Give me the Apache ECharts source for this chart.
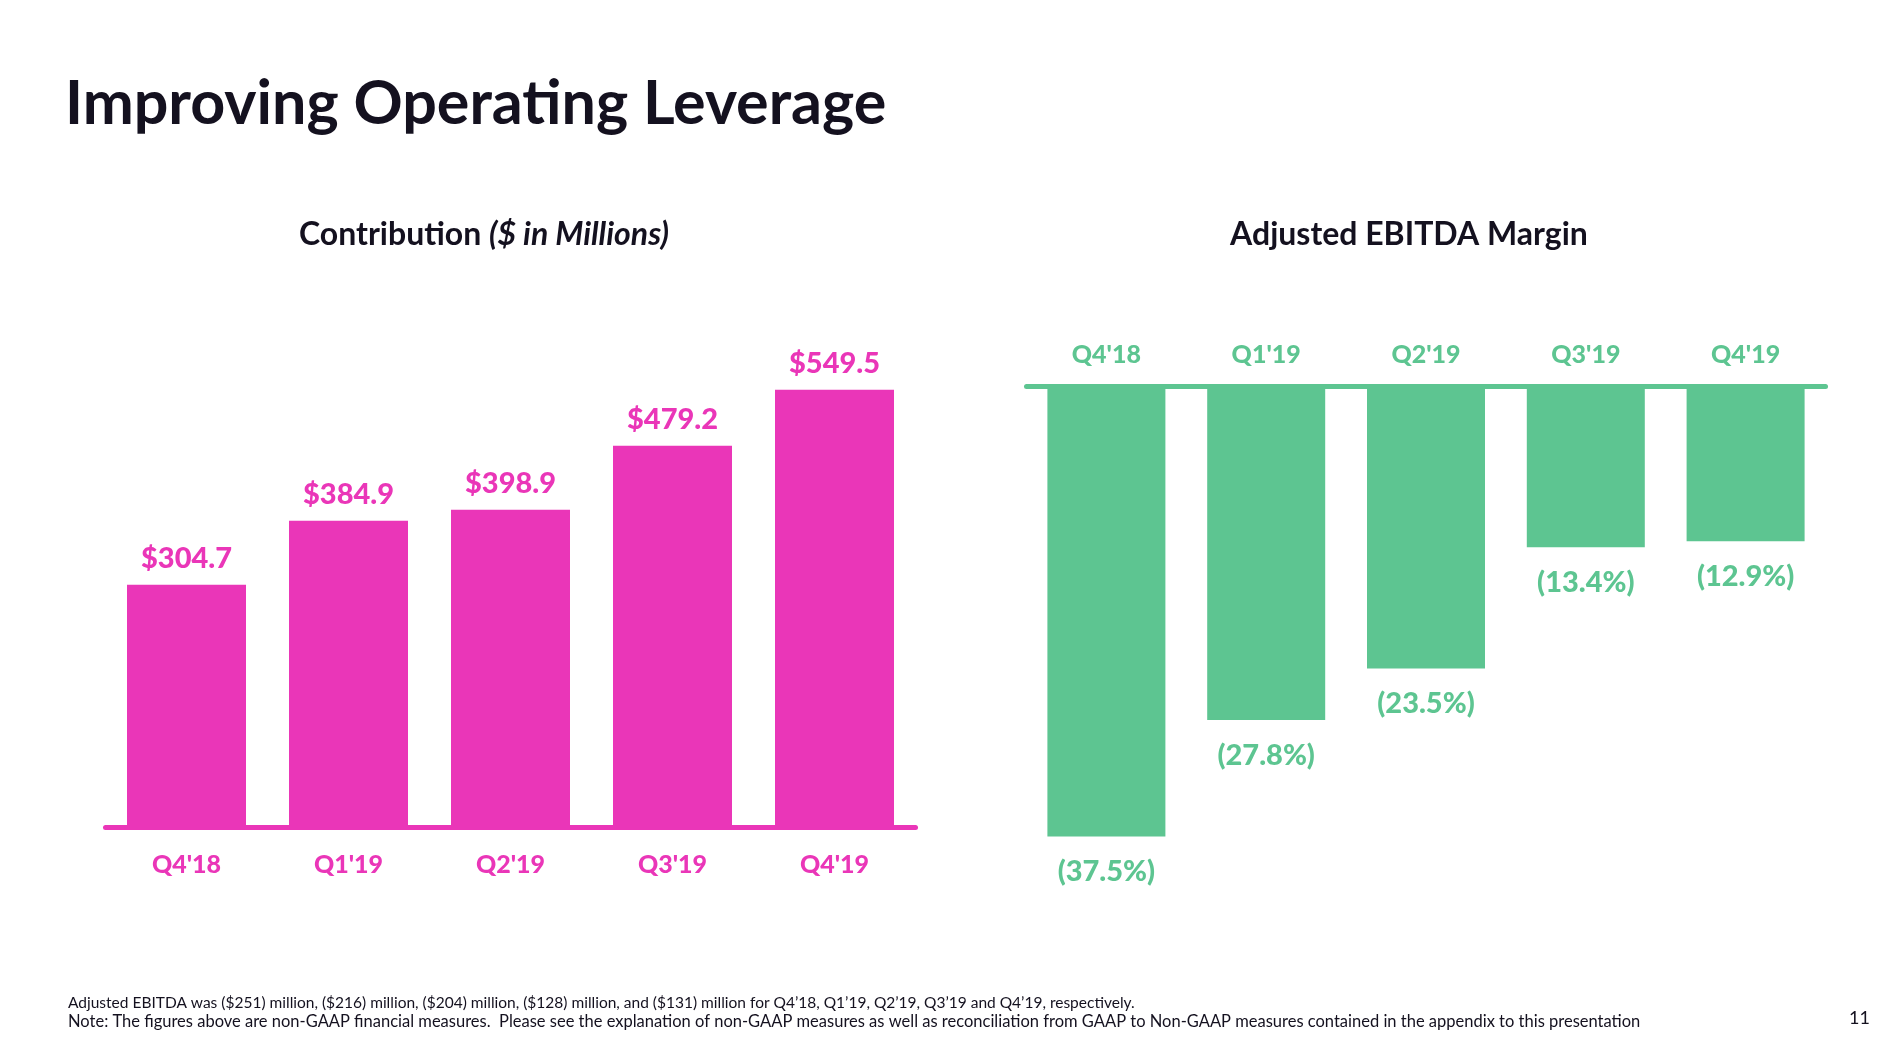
<!DOCTYPE html>
<html>
<head>
<meta charset="utf-8">
<title>Improving Operating Leverage</title>
<script src="https://cdn.jsdelivr.net/npm/echarts@6/dist/echarts.min.js"></script>
<style>
    html, body { margin: 0; padding: 0; background: #fff; }
    #main { width: 1892px; height: 1058px; }
</style>
</head>
<body>
<div id="main"></div>
<script>
// 数据
var quarters = ["Q4'18", "Q1'19", "Q2'19", "Q3'19", "Q4'19"];
var contribution = [304.7, 384.9, 398.9, 479.2, 549.5];
var ebitdaMargin = [-37.5, -27.8, -23.5, -13.4, -12.9];

var footnotes = [
    'Adjusted EBITDA was ($251) million, ($216) million, ($204) million, ($128) million, and ($131) million for Q4\u201918, Q1\u201919, Q2\u201919, Q3\u201919 and Q4\u201919, respectively.',
    'Note: The figures above are non-GAAP financial measures.  Please see the explanation of non-GAAP measures as well as reconciliation from GAAP to Non-GAAP measures contained in the appendix to this presentation'
];

(function (window, echarts) {
    var PINK = '#EA36B8';
    var GREEN = '#5DC591';
    var INK = '#14111F';
    var FONT = 'Lato, "Noto Sans", sans-serif';

    var chart = echarts.init(document.getElementById('main'), null, { renderer: 'canvas' });

    // 简单的对象合并
    function extend(target, src) {
        for (var key in src) {
            if (src.hasOwnProperty(key)) {
                target[key] = src[key];
            }
        }
        return target;
    }

    function textEl(x, y, text, size, weight, color, align) {
        return {
            type: 'text',
            x: x,
            y: y,
            style: {
                text: text,
                fill: color || INK,
                font: (weight || 'normal') + ' ' + size + 'px ' + FONT,
                textAlign: align || 'left',
                textVerticalAlign: 'top'
            }
        };
    }

    // 轴标签 / 数值标签共用样式
    function labelStyle(color, size) {
        return {
            color: color,
            fontFamily: FONT,
            fontWeight: 900,
            fontSize: size
        };
    }

    chart.setOption({
        backgroundColor: '#fff',
        animation: false,
        graphic: [
            textEl(65, 74, 'Improving Operating Leverage', 61, 'bold'),
            {
                type: 'text',
                x: 484,
                y: 219,
                style: {
                    text: '{b|Contribution }{i|($ in Millions)}',
                    textAlign: 'center',
                    textVerticalAlign: 'top',
                    rich: {
                        b: { font: 'bold 32px ' + FONT, fill: INK },
                        i: { font: 'italic bold 32px ' + FONT, fill: INK }
                    }
                }
            },
            textEl(1409, 219, 'Adjusted EBITDA Margin', 32, 'bold', INK, 'center'),
            textEl(68, 995, footnotes[0], 15.5, 'normal'),
            textEl(68, 1013, footnotes[1], 16.5, 'normal'),
            textEl(1849, 1009, '11', 18, 'normal')
        ],
        grid: [
            { left: 105.5, top: 349.5, width: 810, height: 478 },
            { left: 1026.5, top: 386.5, width: 799, height: 480 }
        ],
        xAxis: [
            {
                gridIndex: 0,
                type: 'category',
                data: quarters,
                position: 'bottom',
                axisLine: { lineStyle: { color: PINK, width: 5 } },
                axisTick: { show: false },
                axisLabel: extend({ margin: 25 }, labelStyle(PINK, 25))
            },
            {
                gridIndex: 1,
                type: 'category',
                data: quarters,
                position: 'top',
                axisLine: { lineStyle: { color: GREEN, width: 5 } },
                axisTick: { show: false },
                axisLabel: extend({ margin: 19 }, labelStyle(GREEN, 25))
            }
        ],
        yAxis: [
            { gridIndex: 0, type: 'value', min: 0, max: 600, show: false, splitLine: { show: false } },
            { gridIndex: 1, type: 'value', min: -40, max: 0, show: false, splitLine: { show: false } }
        ],
        series: [
            {
                type: 'bar',
                xAxisIndex: 0,
                yAxisIndex: 0,
                data: contribution,
                barWidth: 119,
                itemStyle: { color: PINK },
                label: extend({
                    show: true,
                    position: 'top',
                    distance: 12,
                    formatter: function (p) { return '$' + p.value.toFixed(1); }
                }, labelStyle(PINK, 29))
            },
            {
                type: 'bar',
                xAxisIndex: 1,
                yAxisIndex: 1,
                data: ebitdaMargin,
                barWidth: 118,
                itemStyle: { color: GREEN },
                label: extend({
                    show: true,
                    position: 'bottom',
                    distance: 21,
                    formatter: function (p) { return '(' + Math.abs(p.value).toFixed(1) + '%)'; }
                }, labelStyle(GREEN, 29))
            }
        ]
    });
})(window, echarts);
</script>
</body>
</html>
